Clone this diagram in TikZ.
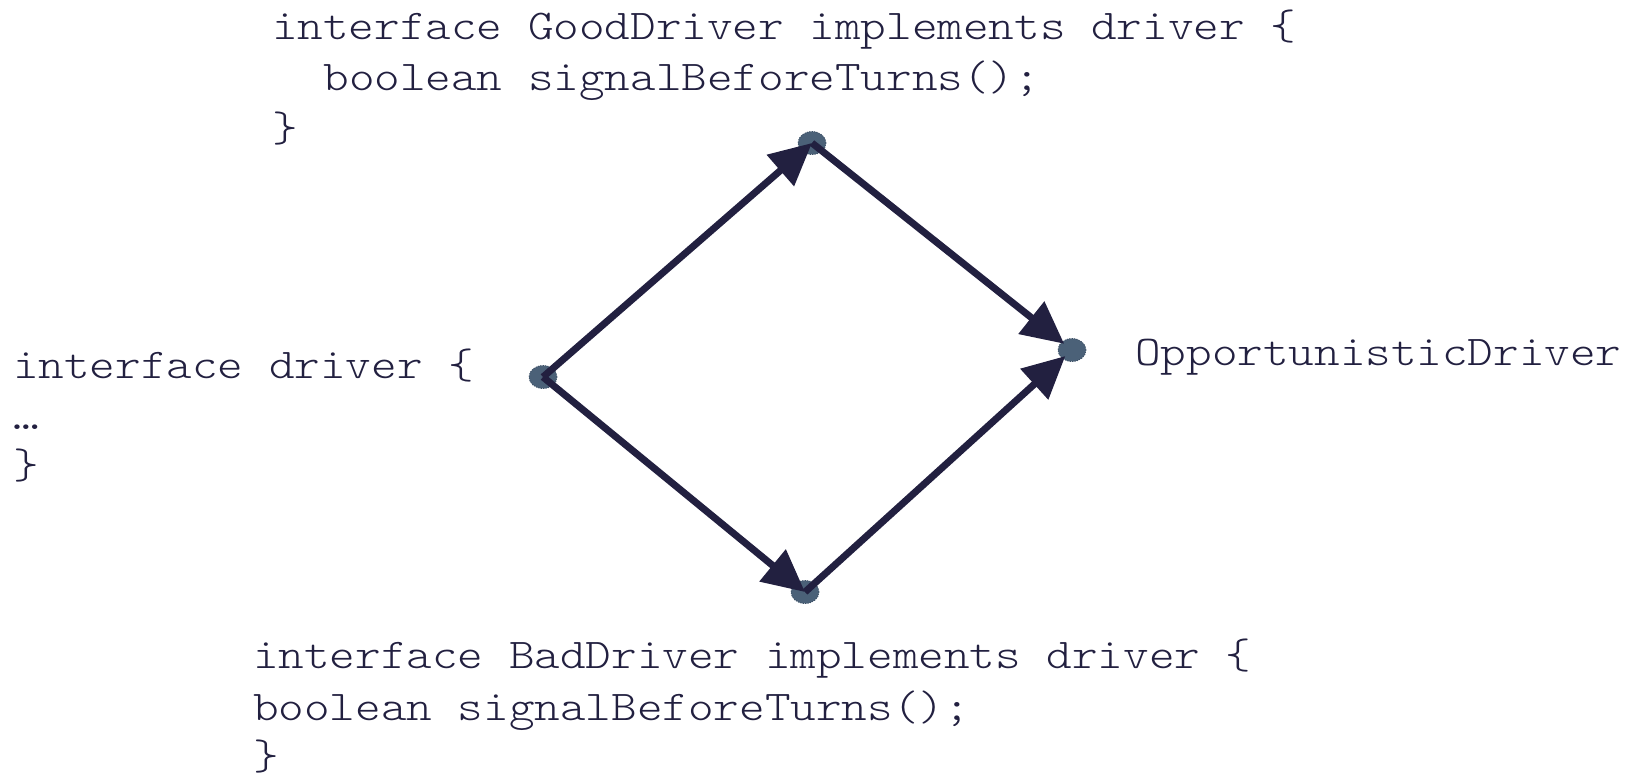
\documentclass[tikz,border=0pt]{standalone}
\usepackage{fontspec}
\setmonofont[FakeStretch=1.15]{Latin Modern Mono Light}
\usetikzlibrary{arrows.meta,shapes.geometric}
\definecolor{ink}{RGB}{34,32,64}
\definecolor{dotfill}{RGB}{75,97,120}
\definecolor{dotedge}{RGB}{60,80,102}
\tikzset{
  code/.style={anchor=base west, inner sep=0pt, text=ink,
    font=\fontsize{42.4}{50}\selectfont\ttfamily},
  vertex/.style={ellipse, minimum width=28pt, minimum height=23pt, inner sep=0pt,
    fill=dotfill, draw=dotedge, line width=0.8pt, dash pattern=on 1.2pt off 1.2pt},
  link/.style={draw=ink, line width=7pt,
    -{Triangle[length=42pt,width=40pt]}},
}
\begin{document}
\begin{tikzpicture}[x=1pt,y=-1pt]
\useasboundingbox (0,0) rectangle (1636,777);

% hierarchy points
\node[vertex] (base) at (543,377) {};
\node[vertex] (good) at (812,143) {};
\node[vertex] (opp)  at (1072,350) {};
\node[vertex] (bad)  at (805,592) {};

% interface text
\node[code] (g1) at (272,39)  {interface GoodDriver implements driver \{};
\node[code] (g2) at (272,90)  {\ \ boolean signalBeforeTurns();};
\node[code] (g3) at (272,141) {\}};

\node[code] (d1) at (13,378) {interface driver \{};
\node[code] (d2) at (13,429) {…};
\node[code] (d3) at (13,478) {\}};

\node[code] (o1) at (1135,365) {OpportunisticDriver};

\node[code] (b1) at (253,668) {interface BadDriver implements driver \{};
\node[code] (b2) at (253,720) {boolean signalBeforeTurns();};
\node[code] (b3) at (253,769) {\}};

% inheritance edges
\draw[link] (base.center) -- (good.center);
\draw[link] (base.center) -- (bad.center);
\draw[link, shorten >=10pt] (good.center) -- (opp.center);
\draw[link, shorten >=9pt] (bad.center) -- (opp.center);
\end{tikzpicture}
\end{document}
